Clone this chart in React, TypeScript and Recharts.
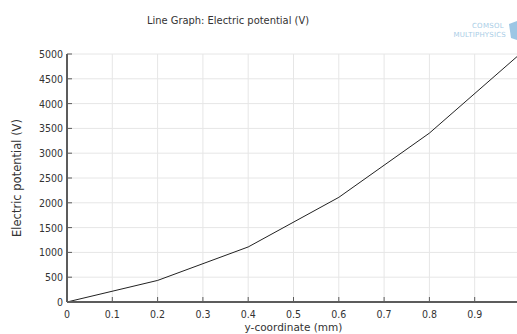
import { CartesianGrid, Label, Line, LineChart, XAxis, YAxis } from "recharts";

// y-coordinate (mm) vs electric potential (V)
const Y_MM = [0, 0.2, 0.4, 0.6, 0.8, 1.0];
const POTENTIAL = [0, 435, 1110, 2110, 3405, 5000];
const X_TICKS = [0, 0.1, 0.2, 0.3, 0.4, 0.5, 0.6, 0.7, 0.8, 0.9];
const Y_TICKS = [0, 500, 1000, 1500, 2000, 2500, 3000, 3500, 4000, 4500, 5000];

const FRAME = "#5c5c5c";
const GRID = "#e6e6e6";
const TEXT = "#333";
const FONT = "'DejaVu Sans Condensed', 'Liberation Sans Narrow', 'Liberation Sans', sans-serif";
const LABEL_FONT = "'DejaVu Sans', sans-serif";

const rows = Y_MM.map((y, i) => ({ y, v: POTENTIAL[i] }));

function BottomTick({ x, y, payload }: any) {
  return (
    <g>
      <line x1={x} x2={x} y1={y} y2={y - 5} stroke={FRAME} strokeWidth={1} />
      <text x={x} y={y + 16} textAnchor="middle" fontSize={10.5} fill={TEXT} fontFamily={FONT}>
        {String(payload.value)}
      </text>
    </g>
  );
}

function TopTick({ x, y }: any) {
  return <line x1={x} x2={x} y1={y} y2={y + 5} stroke={FRAME} strokeWidth={1} />;
}

function LeftTick({ x, y, payload }: any) {
  return (
    <g>
      <line x1={x} x2={x + 5} y1={y} y2={y} stroke={FRAME} strokeWidth={1} />
      <text x={x - 4} y={y + 4} textAnchor="end" fontSize={10.5} fill={TEXT} fontFamily={FONT}>
        {String(payload.value)}
      </text>
    </g>
  );
}

export default function App() {
  return (
    <div style={{ position: "fixed", left: 0, top: 0, width: 517, height: 334, overflow: "hidden", background: "#fff" }}>
      <LineChart width={540} height={334} data={rows} margin={{ top: 54, right: 20, bottom: 0, left: 0 }}>
        <CartesianGrid stroke={GRID} strokeWidth={1} />
        <XAxis
          xAxisId="top"
          orientation="top"
          dataKey="y"
          type="number"
          domain={[0, 1]}
          ticks={X_TICKS}
          height={0}
          tickSize={0}
          tickLine={false}
          tick={<TopTick />}
          axisLine={{ stroke: FRAME, strokeWidth: 2 }}
        />
        <XAxis
          dataKey="y"
          type="number"
          domain={[0, 1]}
          ticks={X_TICKS}
          height={32}
          tickSize={0}
          tickMargin={0}
          tickLine={false}
          tick={<BottomTick />}
          axisLine={{ stroke: FRAME, strokeWidth: 2 }}
        >
          <Label value="y-coordinate (mm)" position="insideBottom" offset={3} fontSize={10.5} fill={TEXT} fontFamily={LABEL_FONT} />
        </XAxis>
        <YAxis
          type="number"
          domain={[0, 5000]}
          ticks={Y_TICKS}
          width={67}
          tickSize={0}
          tickMargin={0}
          tickLine={false}
          tick={<LeftTick />}
          axisLine={{ stroke: FRAME, strokeWidth: 2 }}
        >
          <Label value="Electric potential (V)" angle={-90} position="insideLeft" offset={17} fontSize={11.5} fill={TEXT} fontFamily={LABEL_FONT} style={{ textAnchor: "middle" }} />
        </YAxis>
        <Line dataKey="v" stroke="#222" strokeWidth={1} dot={false} isAnimationActive={false} />
      </LineChart>
      <svg width={517} height={50} style={{ position: "absolute", left: 0, top: 0 }}>
        <text x={228} y={24} textAnchor="middle" fontSize={11} fill={TEXT} fontFamily={FONT}>
          Line Graph: Electric potential (V)
        </text>
        <text x={504} y={28} textAnchor="end" fontSize={7} fill="#a9cde6" fontFamily={LABEL_FONT} letterSpacing={0.3}>
          COMSOL
        </text>
        <text x={506} y={37} textAnchor="end" fontSize={7} fill="#a9cde6" fontFamily={LABEL_FONT} letterSpacing={0.2}>
          MULTIPHYSICS
        </text>
        <path d="M509 24 L517 21 L517 40 L511 38 Z" fill="#9cc6e4" />
      </svg>
    </div>
  );
}
